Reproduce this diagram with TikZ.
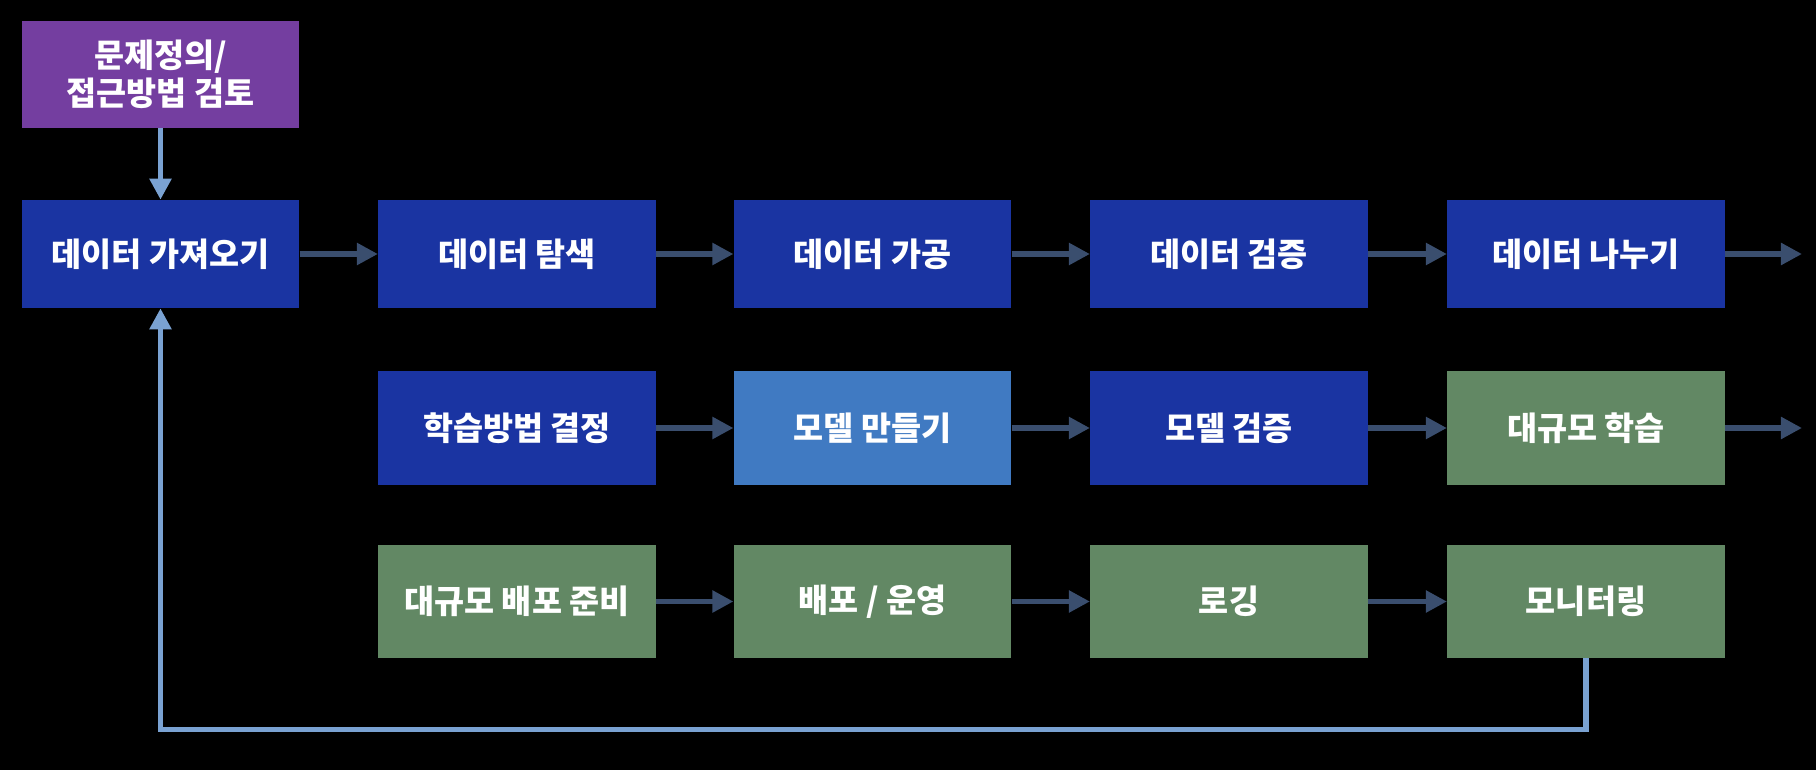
\documentclass[tikz,border=0pt]{standalone}
\usepackage{fontspec}
\setmainfont{Noto Sans CJK KR}
\usetikzlibrary{arrows.meta, positioning}
\definecolor{probpurple}{RGB}{116,62,160}
\definecolor{datablue}{RGB}{26,52,162}
\definecolor{modelblue}{RGB}{64,122,194}
\definecolor{opsgreen}{RGB}{98,136,100}
\definecolor{linkslate}{RGB}{58,78,110}
\definecolor{loopblue}{RGB}{122,162,210}

\begin{document}
\begin{tikzpicture}[x=0.02cm, y=-0.02cm,
  box/.style={minimum width=5.55cm, minimum height=2.16cm, inner sep=0pt, text=white,
    font=\fontsize{18.6}{21.5}\selectfont\bfseries, align=center},
  link/.style={-{Triangle[length=12pt,width=12pt]}, line width=3pt, draw=linkslate},
  loop/.style={-{Triangle[length=12pt,width=12pt]}, line width=3.2pt, draw=loopblue}]
\fill[black] (0,0) rectangle (1816,770);
% problem definition
\node[box, fill=probpurple, minimum height=2.14cm] (prob) at (160.5,74.5) {문제정의/\\접근방법 검토};
% data row
\node[box, fill=datablue] (get) at (160.5,254) {데이터 가져오기};
\node[box, fill=datablue] (explore) at (517,254) {데이터 탐색};
\node[box, fill=datablue] (process) at (872.5,254) {데이터 가공};
\node[box, fill=datablue] (check) at (1229,254) {데이터 검증};
\node[box, fill=datablue] (split) at (1586,254) {데이터 나누기};
% model row
\node[box, fill=datablue, minimum height=2.28cm] (method) at (517,428) {학습방법 결정};
\node[box, fill=modelblue, minimum height=2.28cm] (build) at (872.5,428) {모델 만들기};
\node[box, fill=datablue, minimum height=2.28cm] (verify) at (1229,428) {모델 검증};
\node[box, fill=opsgreen, minimum height=2.28cm] (train) at (1586,428) {대규모 학습};
% ops row
\node[box, fill=opsgreen, minimum height=2.26cm] (prep) at (517,601.5) {대규모 배포 준비};
\node[box, fill=opsgreen, minimum height=2.26cm] (deploy) at (872.5,601.5) {배포 / 운영};
\node[box, fill=opsgreen, minimum height=2.26cm] (logging) at (1229,601.5) {로깅};
\node[box, fill=opsgreen, minimum height=2.26cm] (monitor) at (1586,601.5) {모니터링};
\coordinate (out1) at (1802,254);
\coordinate (out2) at (1802,428);

\draw[loop] (prob) -- (get);
\draw[link] (get) -- (explore);
\draw[link] (explore) -- (process);
\draw[link] (process) -- (check);
\draw[link] (check) -- (split);
\draw[link] (split) -- (out1);
\draw[link] (method) -- (build);
\draw[link] (build) -- (verify);
\draw[link] (verify) -- (train);
\draw[link] (train) -- (out2);
\draw[link] (prep) -- (deploy);
\draw[link] (deploy) -- (logging);
\draw[link] (logging) -- (monitor);
\draw[loop] (monitor.south) -- ++(0,71) -| (get.south);
\end{tikzpicture}
\end{document}
